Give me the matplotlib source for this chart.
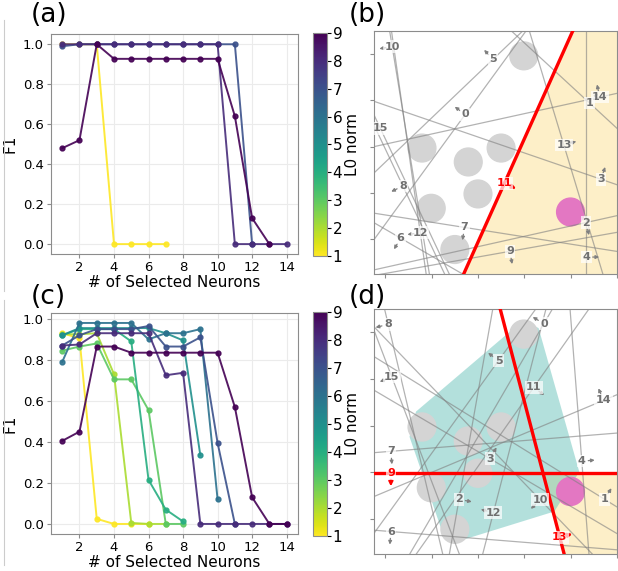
import numpy as np
import matplotlib
matplotlib.use("Agg")
import matplotlib.pyplot as plt
from matplotlib.colors import Normalize
from matplotlib.cm import ScalarMappable
from matplotlib.patches import Circle, Polygon

# ---- (a) F1 vs number of selected neurons, one curve per L0 norm ----
a_norms = [1, 7, 8, 9]
a_f1_1 = [1.0, 1.0, 1.0, 0.0, 0.0, 0.0, 0.0]
a_f1_7 = [0.99, 1.0, 1.0, 1.0, 1.0, 1.0, 1.0, 1.0, 1.0, 1.0, 1.0, 0.0]
a_f1_8 = [1.0, 1.0, 1.0, 1.0, 1.0, 1.0, 1.0, 1.0, 1.0, 1.0, 0.0, 0.0, 0.0, 0.0]
a_f1_9 = [0.48, 0.52, 1.0, 0.927, 0.927, 0.927, 0.927, 0.927, 0.927, 0.927,
          0.64, 0.13, 0.0]

# ---- (c) ----
c_norms = [1, 2, 3, 4, 5, 6, 7, 8, 9]
c_f1_1 = [0.93, 0.905, 0.025, 0.0, 0.0, 0.0]
c_f1_2 = [0.925, 0.925, 0.93, 0.73, 0.005, 0.0, 0.0]
c_f1_3 = [0.845, 0.865, 0.88, 0.705, 0.705, 0.555, 0.0, 0.0]
c_f1_4 = [0.92, 0.95, 0.95, 0.95, 0.89, 0.215, 0.07, 0.012]
c_f1_5 = [0.92, 0.955, 0.955, 0.955, 0.955, 0.955, 0.93, 0.895, 0.335]
c_f1_6 = [0.79, 0.98, 0.98, 0.98, 0.98, 0.90, 0.93, 0.93, 0.95, 0.12]
c_f1_7 = [0.87, 0.92, 0.95, 0.95, 0.95, 0.965, 0.865, 0.865, 0.91, 0.395, 0.0]
c_f1_8 = [0.87, 0.875, 0.93, 0.93, 0.93, 0.93, 0.725, 0.737, 0.0, 0.0, 0.0,
          0.0, 0.0, 0.0]
c_f1_9 = [0.405, 0.45, 0.865, 0.865, 0.835, 0.835, 0.835, 0.835, 0.835, 0.835,
          0.57, 0.13, 0.0, 0.0]

# ---- (b)/(d) geometry: data points and target ----
circ_x = [2.99, 0.79, 1.79, 2.50, 2.0, 0.99, 1.50]
circ_y = [3.96, 1.97, 1.67, 1.97, 0.98, 0.67, -0.22]
circ_r = 0.30
target_x, target_y = 4.0, 0.59

# lines: id, endpoints, label position along line, side of normal arrow
b_ids = ["10", "12", "15", "8", "5", "0", "3", "14", "1", "13", "4", "2",
         "9", "7", "6", "11"]
b_x0 = [0.09, 0.13, -0.25, -0.25, -0.25, -0.25, -0.25, -0.25, 2.72, 3.11,
        4.34, -0.25, -0.25, -0.25, -0.25, 1.69]
b_y0 = [4.5, 4.5, 2.69, 2.47, 1.43, -0.01, 2.98, 2.0, 4.5, 4.5, 4.5, -0.66,
        -0.78, 0.565, 0.36, -0.75]
b_x1 = [0.95, 0.88, 1.38, 1.28, 2.97, 3.04, 5.0, 5.0, 5.0, 4.70, 4.34, 5.0,
        5.0, 5.0, 1.67, 4.05]
b_y1 = [-0.75, -0.75, -0.75, -0.75, 4.5, 4.5, 1.18, 3.15, 2.40, -0.75, -0.75,
        0.51, 0.15, -0.26, -0.75, 4.5]
b_t = [0.065, 0.83, 0.085, 0.41, 0.80, 0.60, 0.935, 0.93, 0.74, 0.47, 0.93,
       0.874, 0.56, 0.373, 0.30, 0.373]
b_side = [-1, -1, -1, -1, 1, 1, 1, 1, 1, 1, 1, -1, -1, -1, -1, -1]
b_red = ["11"]

d_ids = ["8", "15", "7", "6", "14", "4", "1", "3", "10", "2", "12", "5", "0",
         "11", "9", "13"]
d_x0 = [-0.02, -0.25, -0.25, -0.25, -0.25, 3.99, -0.25, -0.25, -0.25, 2.32,
        2.10, -0.25, 0.52, 0.66, -0.25, 2.48]
d_y0 = [4.5, 4.05, 1.42, -0.24, 0.48, 4.5, 3.48, 2.76, 4.12, 4.5, -0.76,
        -0.31, -0.76, -0.76, 0.98, 4.5]
d_x1 = [1.24, 1.60, 5.0, 5.0, 5.0, 4.40, 5.0, 5.0, 4.48, 1.38, 3.47, 3.25,
        3.61, 4.40, 5.0, 3.865]
d_y1 = [-0.76, -0.76, 1.84, -0.66, 2.66, -0.76, 0.26, -0.31, -0.76, -0.76,
        4.5, 4.5, 4.5, 4.5, 0.98, -0.76]
d_t = [0.063, 0.21, 0.07, 0.07, 0.945, 0.62, 0.95, 0.478, 0.76, 0.776, 0.17,
       0.77, 0.94, 0.68, 0.07, 0.93]
d_side = [-1, -1, -1, -1, 1, 1, 1, 1, -1, 1, 1, 1, 1, -1, -1, 1]
d_red = ["9", "13"]

hull_x = [2.97, 3.31, 4.19, 3.65, 1.63, 1.24, 0.52, 0.66]
hull_y = [4.25, 4.09, 1.01, 0.16, -0.46, -0.31, 1.76, 2.30]

XLIM = (-0.25, 5.0)
YLIM = (-0.75, 4.5)

cmap = plt.get_cmap("viridis_r")
norm = Normalize(vmin=1, vmax=9)
plt.rcParams["font.family"] = "DejaVu Sans"

fig = plt.figure(figsize=(6.18, 5.71), dpi=100)


def f1_panel(ax, norms, curves):
    for l0, f1 in zip(norms, curves):
        xs = np.arange(1, len(f1) + 1)
        ax.plot(xs, f1, "-o", color=cmap(norm(l0)), lw=1.4, ms=3.5,
                alpha=0.9)
    ax.set_xticks(range(2, 15, 2))
    ax.set_yticks(np.arange(0, 1.01, 0.2))
    ax.grid(color="#ebebeb", lw=0.8)
    ax.set_axisbelow(True)
    for s in ax.spines.values():
        s.set_color("#8c8c8c")
    ax.tick_params(labelsize=9.5, length=3, color="#8c8c8c", pad=2)
    ax.set_xlabel("# of Selected Neurons", fontsize=11, labelpad=1)
    ax.set_ylabel("F1", fontsize=11)


def colorbar(rect):
    cax = fig.add_axes(rect)
    cb = fig.colorbar(ScalarMappable(norm=norm, cmap=cmap), cax=cax,
                      ticks=range(1, 10))
    cb.outline.set_edgecolor("#8c8c8c")
    cb.outline.set_linewidth(0.8)
    cb.ax.tick_params(labelsize=11, length=3, pad=1)
    cb.set_label("L0 norm", fontsize=11, labelpad=2)


def geometry_panel(ax, ids, x0, y0, x1, y1, ts, sides, red, hull=None):
    # shaded region on the side the red arrows point to
    gx, gy = np.meshgrid(np.linspace(*XLIM, 700), np.linspace(*YLIM, 700))
    mask = np.ones_like(gx, dtype=bool)
    for i, lid in enumerate(ids):
        if lid not in red:
            continue
        dx, dy = x1[i] - x0[i], y1[i] - y0[i]
        nx, ny = -dy * sides[i], dx * sides[i]
        mask &= (gx - x0[i]) * nx + (gy - y0[i]) * ny > 0
    img = np.zeros(gx.shape + (4,))
    img[mask] = [253 / 255, 239 / 255, 200 / 255, 1.0]
    ax.imshow(img, extent=(*XLIM, *YLIM), origin="lower", aspect="auto",
              interpolation="nearest", zorder=0)

    if hull is not None:
        ax.add_patch(Polygon(np.column_stack(hull), closed=True,
                             facecolor=(88 / 255, 188 / 255, 179 / 255),
                             alpha=0.45, edgecolor="none", zorder=0.5))

    for cx, cy in zip(circ_x, circ_y):
        ax.add_patch(Circle((cx, cy), circ_r, color="#d4d4d4", zorder=1))
    ax.add_patch(Circle((target_x, target_y), circ_r, color="#e377c2",
                        zorder=1))

    for i, lid in enumerate(ids):
        is_red = lid in red
        col = "red" if is_red else "gray"
        ax.plot([x0[i], x1[i]], [y0[i], y1[i]], color=col,
                lw=2.4 if is_red else 0.9, alpha=1.0 if is_red else 0.6,
                zorder=3 if is_red else 2)
        dx, dy = x1[i] - x0[i], y1[i] - y0[i]
        ln = np.hypot(dx, dy)
        nx, ny = -dy / ln * sides[i], dx / ln * sides[i]
        px, py = x0[i] + ts[i] * dx, y0[i] + ts[i] * dy
        ax.annotate("", xy=(px + 0.28 * nx, py + 0.28 * ny),
                    xytext=(px + 0.14 * nx, py + 0.14 * ny),
                    arrowprops=dict(arrowstyle="-|>", color=col,
                                    lw=1.5 if is_red else 0.9,
                                    mutation_scale=6 if is_red else 5,
                                    shrinkA=0, shrinkB=0),
                    zorder=4)
        ax.text(px, py, lid, color=col if is_red else "#707070",
                fontsize=8, fontweight="bold", ha="center", va="center",
                zorder=5,
                bbox=dict(boxstyle="square,pad=0.12", facecolor="white",
                          edgecolor="none", alpha=0.7))

    ax.set_xlim(*XLIM)
    ax.set_ylim(*YLIM)
    ax.set_xticks(range(0, 6))
    ax.set_yticks(range(0, 5))
    ax.tick_params(labelbottom=False, labelleft=False, length=3,
                   color="#8c8c8c")
    for s in ax.spines.values():
        s.set_color("#8c8c8c")


ax_a = fig.add_axes([0.0825, 0.555, 0.3995, 0.385])
f1_panel(ax_a, a_norms, [a_f1_1, a_f1_7, a_f1_8, a_f1_9])
colorbar([0.5065, 0.552, 0.0226, 0.39])

ax_c = fig.add_axes([0.0825, 0.0648, 0.3995, 0.3872])
f1_panel(ax_c, c_norms, [c_f1_1, c_f1_2, c_f1_3, c_f1_4, c_f1_5, c_f1_6,
                         c_f1_7, c_f1_8, c_f1_9])
colorbar([0.5065, 0.061, 0.0226, 0.393])

ax_b = fig.add_axes([0.605, 0.520, 0.393, 0.426])
geometry_panel(ax_b, b_ids, b_x0, b_y0, b_x1, b_y1, b_t, b_side, b_red)

ax_d = fig.add_axes([0.605, 0.0298, 0.393, 0.4292])
geometry_panel(ax_d, d_ids, d_x0, d_y0, d_x1, d_y1, d_t, d_side, d_red,
               hull=(hull_x, hull_y))

for label, x, y in [("(a)", 0.050, 0.997), ("(b)", 0.565, 0.997),
                    ("(c)", 0.050, 0.503), ("(d)", 0.565, 0.503)]:
    fig.text(x, y, label, fontsize=19, ha="left", va="top")

# thin separator lines on the far left edge
fig.add_artist(plt.Line2D([0.0065, 0.0065], [0.49, 0.965],
                          color="#cccccc", lw=0.8))
fig.add_artist(plt.Line2D([0.0065, 0.0065], [0.01, 0.475],
                          color="#cccccc", lw=0.8))

fig.savefig("out.png", dpi=100)
